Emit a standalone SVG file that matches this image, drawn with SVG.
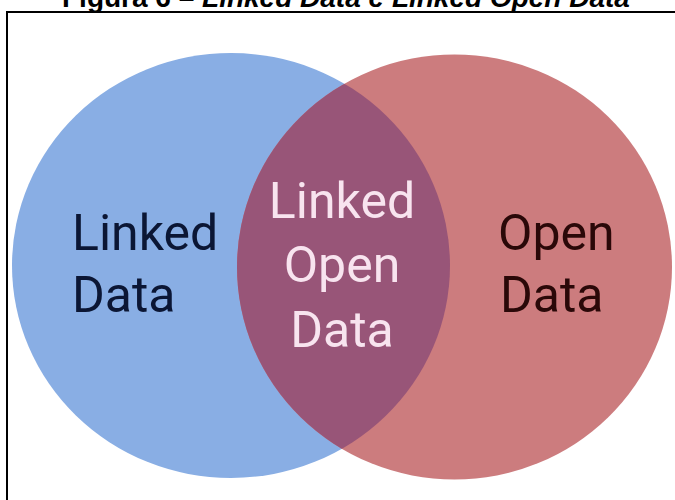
<svg xmlns="http://www.w3.org/2000/svg" width="675" height="500" viewBox="0 0 675 500">
<defs>
<style>
.title{font-family:"Liberation Sans",Arial,sans-serif;font-size:28px;font-weight:bold;fill:#000}
.lbl{font-family:Roboto,"Liberation Sans",sans-serif;font-size:50px}
.dark1{fill:#0b1634}
.dark2{fill:#2a0808}
.light{fill:#f8e4ef}
</style>
<clipPath id="leftClip"><ellipse cx="231" cy="265.5" rx="219" ry="212.5"/></clipPath>
</defs>
<rect width="675" height="500" fill="#fff"/>
<text class="title" x="62" y="7">Figura 6 – <tspan font-style="italic">Linked Data e Linked Open Data</tspan></text>
<path d="M7,500 V12 H675" fill="none" stroke="#000" stroke-width="2"/>
<g id="linked-data">
<ellipse cx="231" cy="265.5" rx="219" ry="212.5" fill="#89aee4"/>
<text class="lbl dark1" x="72" y="250">Linked</text>
<text class="lbl dark1" x="72" y="312">Data</text>
</g>
<g id="open-data">
<ellipse cx="454.5" cy="267" rx="217.5" ry="212.5" fill="#cc7c7e"/>
<text class="lbl dark2" x="498" y="250">Open</text>
<text class="lbl dark2" x="500" y="312">Data</text>
</g>
<g id="linked-open-data">
<ellipse cx="454.5" cy="267" rx="217.5" ry="212.5" fill="#985578" clip-path="url(#leftClip)"/>
<text class="lbl light" x="342" y="218" text-anchor="middle">Linked</text>
<text class="lbl light" x="342" y="282" text-anchor="middle">Open</text>
<text class="lbl light" x="342" y="347" text-anchor="middle">Data</text>
</g>
<g id="connectors"/>
</svg>
